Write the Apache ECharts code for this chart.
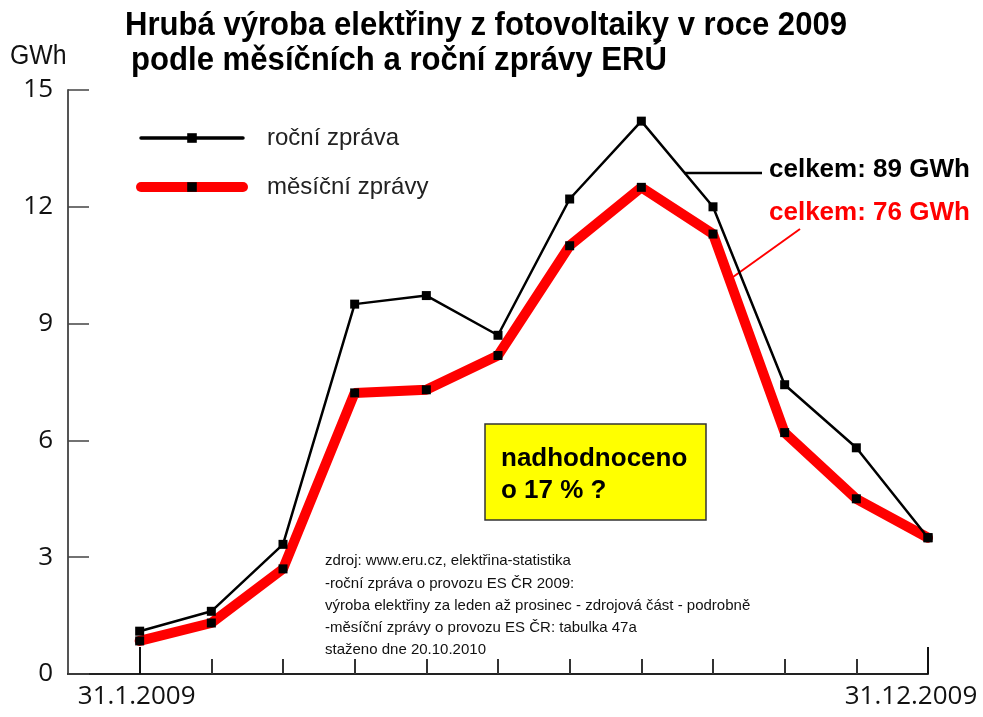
<!DOCTYPE html>
<html>
<head>
<meta charset="utf-8">
<script src="https://cdn.jsdelivr.net/npm/echarts@6/dist/echarts.min.js"></script>
<style>
  html, body { margin: 0; padding: 0; background: #fff; }
  #chart { width: 983px; height: 717px; }
</style>
</head>
<body>
<div id="chart"></div>
<script>
// mesice 1..12, hodnoty v GWh
var months = [1, 2, 3, 4, 5, 6, 7, 8, 9, 10, 11, 12];
var rocniZprava = [1.1, 1.61, 3.33, 9.5, 9.72, 8.7, 12.2, 14.2, 12.0, 7.43, 5.81, 3.5];
var mesicniZpravy = [0.85, 1.31, 2.7, 7.22, 7.3, 8.18, 11.0, 12.5, 11.3, 6.2, 4.5, 3.5];
var seriesNames = ['roční zpráva', 'měsíční zprávy'];
var endTicks = [1, 12];
var endLabels = ['31.1.2009', '31.12.2009'];
var shortTicks = [2, 3, 4, 5, 6, 7, 8, 9, 10, 11];
var yMax = 15, yStep = 3;

var titleLines = ['Hrubá výroba elektřiny z fotovoltaiky v roce 2009', 'podle měsíčních a roční zprávy ERÚ'];
var totals = ['celkem: 89 GWh', 'celkem: 76 GWh'];
var noteLines = ['nadhodnoceno', 'o 17 % ?'];
var sourceLines = [
  'zdroj: www.eru.cz, elektřina-statistika',
  '-roční zpráva o provozu ES ČR 2009:',
  'výroba elektřiny za leden až prosinec - zdrojová část - podrobně',
  '-měsíční zprávy o provozu ES ČR: tabulka 47a',
  'staženo dne 20.10.2010'
];

function pairs(xs, ys) {
  return xs.map(function (x, i) { return [x, ys[i]]; });
}

// sirka textu -> zuzeni nadpisu na sirku v obrazku
var ctx = document.createElement('canvas').getContext('2d');
function fitScale(text, font, width) {
  ctx.font = font;
  return width / ctx.measureText(text).width;
}
var titleFont = 'bold 33px "Liberation Sans", Arial, sans-serif';

var chart = echarts.init(document.getElementById('chart'));

var option = {
  animation: false,
  backgroundColor: '#fff',
  grid: { left: 68, right: 55, top: 90, bottom: 43, outerBoundsMode: 'none' },
  legend: {
    orient: 'vertical',
    left: 131, top: 121,
    itemWidth: 102, itemHeight: 12, itemGap: 25,
    data: [
      { name: seriesNames[0], lineStyle: { width: 3.5, color: '#000', cap: 'round' } },
      { name: seriesNames[1], lineStyle: { width: 10, color: '#ff0000', cap: 'round' } }
    ],
    textStyle: { fontFamily: '"Liberation Sans", Arial', fontSize: 24, color: '#222', padding: [0, 0, 0, 19] }
  },
  xAxis: [{
    type: 'value', min: 0, max: 12, interval: 1,
    axisLine: { show: true, lineStyle: { color: '#222', width: 2 } },
    axisTick: { show: true, inside: true, length: 15, customValues: shortTicks, lineStyle: { color: '#333', width: 2 } },
    axisLabel: { show: false },
    splitLine: { show: false }
  }, {
    type: 'value', min: 0, max: 12, interval: 1, position: 'bottom',
    axisLine: { show: false },
    axisTick: { show: true, inside: true, length: 27, customValues: endTicks, lineStyle: { color: '#111', width: 2 } },
    axisLabel: {
      show: true, customValues: endTicks, margin: 10,
      formatter: function (v) {
        var i = endTicks.indexOf(v);
        return i === 0 ? '{a|' + endLabels[0] + '}' : '{b|' + endLabels[1] + '}';
      },
      rich: {
        a: { fontFamily: '"Open Sans"', fontSize: 26, color: '#111', padding: [0, 6, 0, 0] },
        b: { fontFamily: '"Open Sans"', fontSize: 26, color: '#111', padding: [0, 34, 0, 0] }
      }
    },
    splitLine: { show: false }
  }],
  yAxis: {
    type: 'value', min: 0, max: yMax, interval: yStep,
    axisLine: { show: true, lineStyle: { color: '#555', width: 2 } },
    axisTick: { show: true, inside: true, length: 21, lineStyle: { color: '#444', width: 1.5 } },
    axisLabel: { fontFamily: '"Open Sans"', fontSize: 26, color: '#111', margin: 15 },
    splitLine: { show: false }
  },
  series: [{
    name: seriesNames[1],
    type: 'line',
    data: pairs(months, mesicniZpravy),
    symbol: 'rect', symbolSize: 9,
    itemStyle: { color: '#000' },
    lineStyle: { color: '#ff0000', width: 10, cap: 'round' },
    z: 2
  }, {
    name: seriesNames[0],
    type: 'line',
    data: pairs(months, rocniZprava),
    symbol: 'rect', symbolSize: 9,
    itemStyle: { color: '#000' },
    lineStyle: { color: '#000', width: 2.5 },
    z: 3
  }],
  graphic: [
    { type: 'text', x: 125, y: 26, scaleX: fitScale(titleLines[0], titleFont, 722),
      style: { text: titleLines[0], font: titleFont, fill: '#000', verticalAlign: 'middle' } },
    { type: 'text', x: 131, y: 61, scaleX: fitScale(titleLines[1], titleFont, 536),
      style: { text: titleLines[1], font: titleFont, fill: '#000', verticalAlign: 'middle' } },
    { type: 'text', x: 10, y: 57, scaleX: 0.92,
      style: { text: 'GWh', font: '27px "Liberation Sans", Arial', fill: '#111', verticalAlign: 'middle' } },
    // popisky celkem s vodicimi carami
    { type: 'line', shape: { x1: 684, y1: 173, x2: 762, y2: 173 }, style: { stroke: '#000', lineWidth: 2.5 } },
    { type: 'text', x: 769, y: 170,
      style: { text: totals[0], font: 'bold 26px "Liberation Sans", Arial', fill: '#000', verticalAlign: 'middle' } },
    { type: 'line', shape: { x1: 733, y1: 277, x2: 800, y2: 229 }, style: { stroke: '#ff0000', lineWidth: 2 } },
    { type: 'text', x: 769, y: 213,
      style: { text: totals[1], font: 'bold 26px "Liberation Sans", Arial', fill: '#ff0000', verticalAlign: 'middle' } },
    // zluty ramecek
    { type: 'rect', shape: { x: 485, y: 424, width: 221, height: 96 },
      style: { fill: '#ffff00', stroke: '#333', lineWidth: 1.5 }, z: 10 },
    { type: 'text', x: 501, y: 459, z: 11,
      style: { text: noteLines[0], font: 'bold 26px "Liberation Sans", Arial', fill: '#000', verticalAlign: 'middle' } },
    { type: 'text', x: 501, y: 491, z: 11,
      style: { text: noteLines[1], font: 'bold 26px "Liberation Sans", Arial', fill: '#000', verticalAlign: 'middle' } },
    // zdroj
    { type: 'text', x: 325, y: 550,
      style: { text: sourceLines.join('\n'), font: '15px "Liberation Sans", Arial', lineHeight: 22.3, fill: '#111', verticalAlign: 'top' } }
  ]
};

chart.setOption(option);
</script>
</body>
</html>
